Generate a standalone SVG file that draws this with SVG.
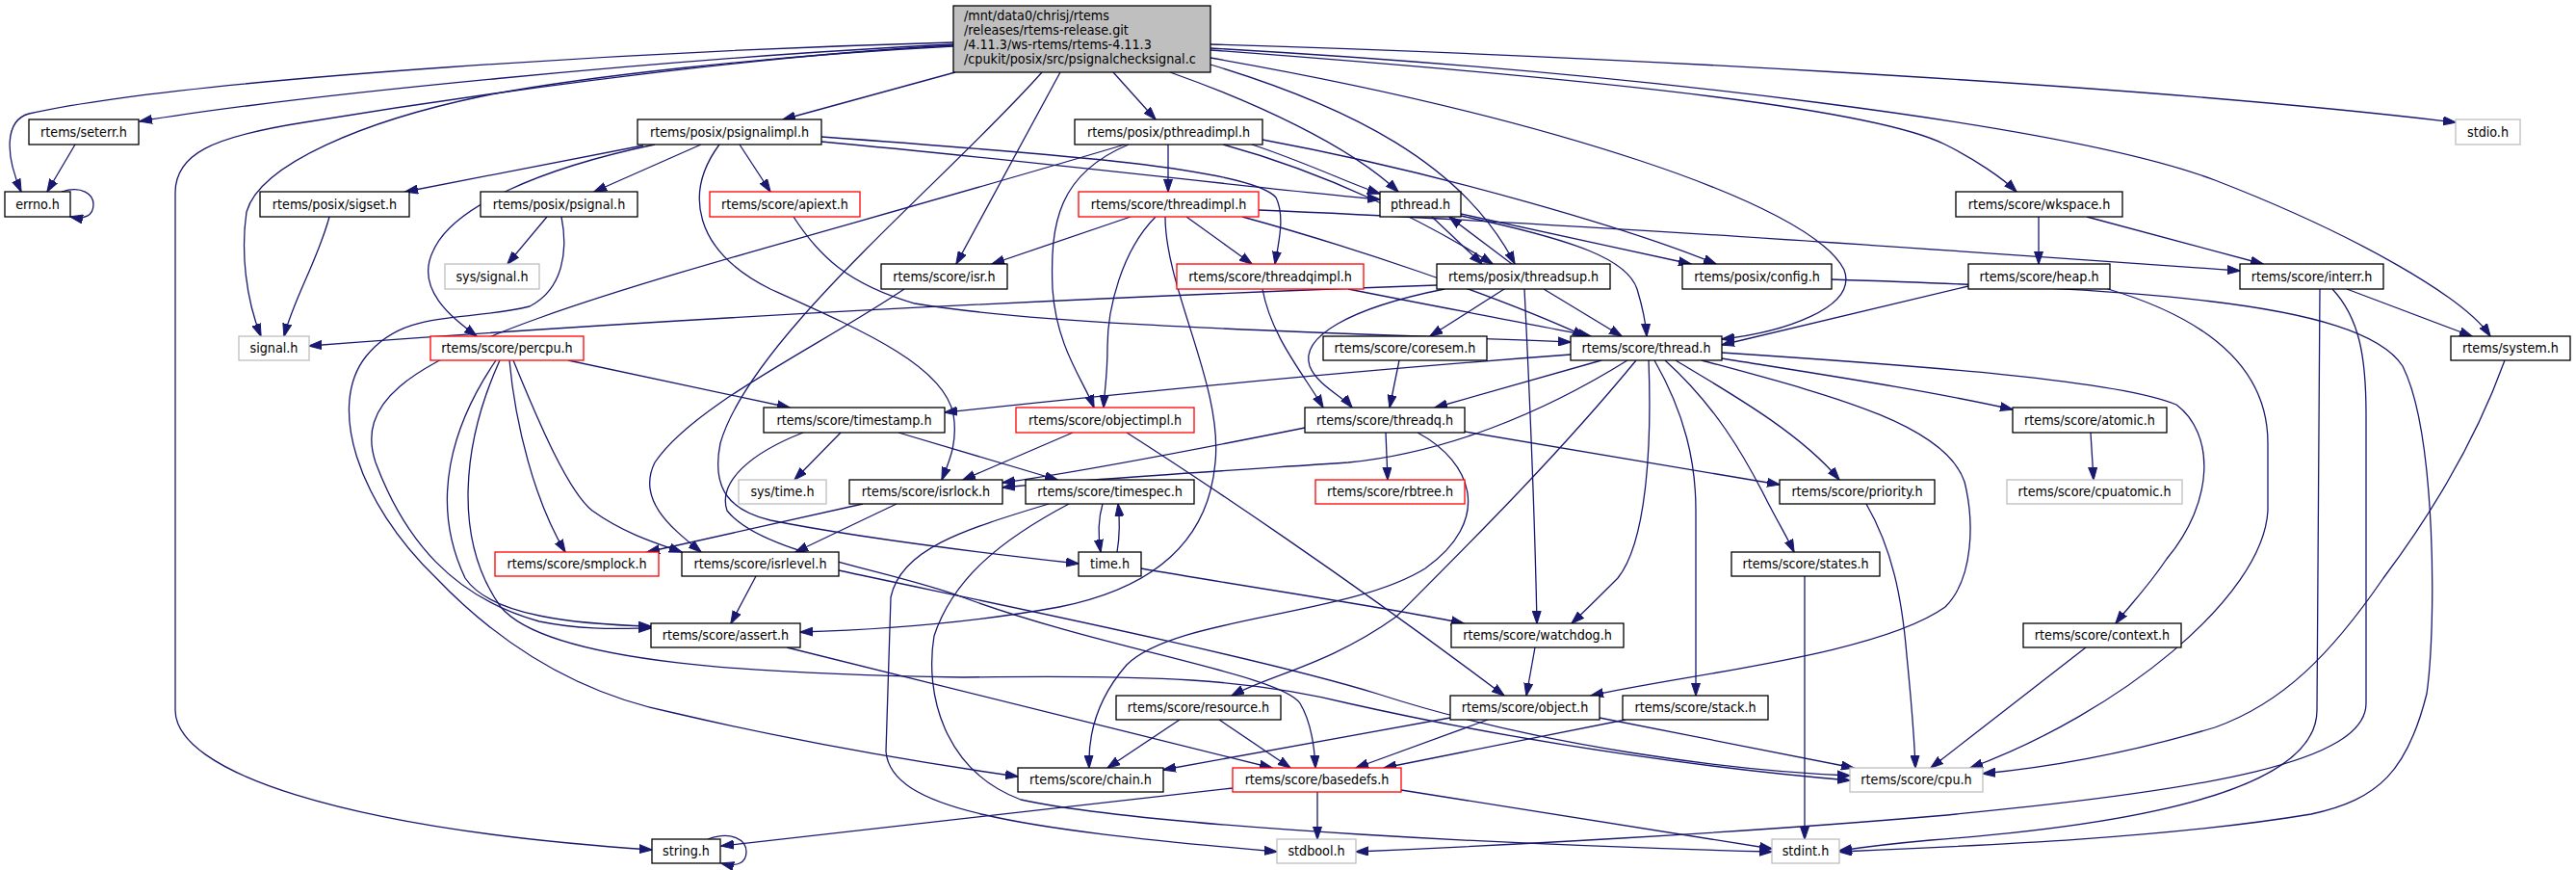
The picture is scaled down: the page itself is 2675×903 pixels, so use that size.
<svg xmlns="http://www.w3.org/2000/svg" width="2675" height="903" viewBox="0 0 2675 903">
<style>
.n rect{fill:#fff;stroke:#000;stroke-width:1.3}
.r rect{stroke:#ff0000}
.g rect{stroke:#bfbfbf}
.m rect{fill:#bfbfbf}
text{font-family:"DejaVu Sans Condensed","Liberation Sans",Arial,sans-serif;font-size:14.2px;fill:#000;text-anchor:middle}
.m text{text-anchor:start}
.e path{fill:none;stroke:#191970;stroke-width:1.3;marker-end:url(#a)}
</style>
<defs>
<marker id="a" markerUnits="userSpaceOnUse" markerWidth="14" markerHeight="10" refX="13" refY="5" viewBox="0 0 14 10" orient="auto"><path d="M0,0.5 L13.5,5 L0,9.5 z" fill="#191970" stroke="#191970" stroke-width="1"/></marker>
</defs>
<rect width="2675" height="903" fill="#fff"/>
<g class="e" id="edges">
<path d="M990,44 C700,52 200,80 30,118 C5,125 5,160 22,199"/>
<path d="M990,46 C700,60 300,100 145,126"/>
<path d="M990,47 C750,60 450,105 316,127 C220,142 182,160 182,200 L182,737 C182,800 350,860 677,882"/>
<path d="M990,48 C800,58 600,80 500,100 C380,125 270,170 256,220 C250,260 255,310 271,349"/>
<path d="M992,75 L813,124"/>
<path d="M1082,75 C980,190 780,350 748,460 C738,510 760,530 800,540 C900,560 1030,575 1120,585"/>
<path d="M1101,75 L993,274"/>
<path d="M1156,75 L1200,124"/>
<path d="M1215,75 C1300,105 1400,150 1452,199"/>
<path d="M1257,67 C1400,110 1520,170 1573,274"/>
<path d="M1257,60 C1600,120 1880,210 1915,280 C1930,320 1850,345 1788,352"/>
<path d="M1257,46 C1600,56 2200,85 2550,127"/>
<path d="M1257,50 C1700,75 2150,130 2300,187 C2450,245 2560,310 2586,349"/>
<path d="M1257,52 C1700,85 1950,115 2020,150 C2050,165 2080,185 2094,199"/>
<path d="M78,150 L49,199"/>
<path d="M64,199 C85,192 97,202 97,212 C97,224 88,228 73,225"/>
<path d="M668,151 L421,199"/>
<path d="M728,150 L617,199"/>
<path d="M768,150 L800,199"/>
<path d="M680,150 C560,175 470,215 450,260 C430,300 470,330 495,349"/>
<path d="M747,150 C710,200 720,260 800,300 C900,345 980,380 990,430 C995,460 985,480 978,498"/>
<path d="M853,142 C1100,160 1300,175 1325,205 C1335,225 1327,255 1324,274"/>
<path d="M853,147 C1100,170 1300,195 1433,207"/>
<path d="M1300,150 C1360,170 1400,190 1433,201"/>
<path d="M1270,150 C1380,180 1480,230 1550,274"/>
<path d="M1311,145 C1500,180 1700,240 1782,274"/>
<path d="M1213,150 L1213,199"/>
<path d="M1172,150 C1100,180 1090,230 1093,300 C1097,360 1125,395 1136,423"/>
<path d="M1168,150 C900,230 700,280 560,330 C420,380 370,420 390,480 C420,560 470,620 560,645 C610,655 650,652 676,652"/>
<path d="M342,225 C330,270 305,310 295,349"/>
<path d="M568,225 L527,274"/>
<path d="M583,225 C590,260 585,300 550,318 C480,335 420,320 380,370 C340,420 370,520 453,600 C520,670 600,720 700,740 C850,775 980,795 1057,806"/>
<path d="M824,225 C850,265 880,295 950,315 C1100,340 1400,345 1631,355"/>
<path d="M1174,225 L1030,274"/>
<path d="M1232,225 L1300,274"/>
<path d="M1200,225 C1165,260 1150,320 1150,360 C1150,390 1147,405 1146,423"/>
<path d="M1210,225 C1210,300 1270,400 1262,480 C1255,560 1200,610 1100,630 C1000,648 900,654 831,656"/>
<path d="M1307,218 C1600,230 2000,258 2326,281"/>
<path d="M1290,225 C1400,255 1550,305 1646,349"/>
<path d="M1487,225 L1539,274"/>
<path d="M1517,222 L1756,274"/>
<path d="M1517,224 C1640,250 1690,270 1700,300 C1706,320 1709,335 1710,349"/>
<path d="M1570,274 L1505,225"/>
<path d="M1492,296 C1100,310 700,330 321,359"/>
<path d="M1562,300 L1485,349"/>
<path d="M1603,300 L1684,349"/>
<path d="M1583,300 C1588,400 1594,550 1596,647"/>
<path d="M1500,300 C1400,320 1350,350 1360,380 C1368,400 1395,412 1404,423"/>
<path d="M2117,225 L2117,274"/>
<path d="M2167,225 L2350,274"/>
<path d="M1902,290 C2200,300 2450,310 2495,380 C2530,450 2530,650 2520,720 C2500,800 2470,830 2400,845 C2250,870 2050,878 1910,884"/>
<path d="M2044,297 L1788,358"/>
<path d="M2189,300 C2290,330 2355,380 2355,460 L2355,530 C2350,620 2200,740 2046,797"/>
<path d="M2437,300 L2567,349"/>
<path d="M2422,300 C2450,330 2457,370 2457,430 L2457,730 C2457,790 2300,820 2010,847 C1800,865 1550,878 1408,884"/>
<path d="M2409,300 L2406,737 C2406,800 2300,850 2005,872 C1960,876 1930,880 1910,883"/>
<path d="M2601,374 C2570,460 2520,540 2475,600 C2420,680 2370,730 2300,755 C2200,785 2120,797 2059,803"/>
<path d="M590,374 L820,423"/>
<path d="M529,374 C535,440 555,520 587,573"/>
<path d="M533,374 C560,440 590,510 615,530 C650,555 685,565 708,573"/>
<path d="M515,374 C470,440 445,520 483,600 C510,640 600,648 676,650"/>
<path d="M519,374 C480,460 470,560 520,630 C570,690 800,700 1000,703 C1200,700 1300,705 1400,730 C1600,775 1800,800 1921,810"/>
<path d="M939,300 C850,360 720,420 680,480 C660,520 700,550 728,573"/>
<path d="M1453,374 L1443,423"/>
<path d="M873,449 L825,498"/>
<path d="M933,449 L1098,498"/>
<path d="M834,449 C780,470 745,500 755,530 C790,575 920,590 1000,620 C1150,675 1330,700 1350,730 C1362,750 1365,775 1366,797"/>
<path d="M1114,449 L1000,498"/>
<path d="M1170,449 C1250,500 1400,600 1562,722"/>
<path d="M1439,449 L1441,498"/>
<path d="M1521,448 L1848,503"/>
<path d="M1472,449 C1530,480 1550,540 1480,590 C1400,640 1220,640 1170,690 C1135,730 1130,770 1131,797"/>
<path d="M1355,444 C1250,465 1120,490 1041,501"/>
<path d="M1311,300 C1320,350 1355,390 1374,423"/>
<path d="M1400,300 C1500,320 1600,338 1652,349"/>
<path d="M1631,368 C1400,385 1150,410 981,428"/>
<path d="M1663,374 L1490,423"/>
<path d="M1690,374 C1600,430 1500,470 1400,480 C1250,490 1120,498 1041,506"/>
<path d="M1699,374 C1620,470 1530,560 1450,640 C1380,690 1320,700 1279,722"/>
<path d="M1712,374 C1715,450 1712,560 1680,600 C1660,620 1645,635 1632,647"/>
<path d="M1718,374 C1750,430 1761,480 1761,530 L1761,722"/>
<path d="M1729,374 C1780,420 1810,470 1835,520 C1848,545 1857,560 1863,573"/>
<path d="M1740,374 C1800,410 1870,450 1910,498"/>
<path d="M1767,374 C1900,410 2020,440 2040,500 C2050,540 2050,600 2020,630 C1950,680 1750,700 1652,722"/>
<path d="M1788,372 C1900,390 2000,405 2090,425"/>
<path d="M1788,366 C2000,380 2200,395 2260,420 C2300,450 2300,520 2250,580 C2230,610 2210,630 2197,647"/>
<path d="M2171,449 L2174,498"/>
<path d="M896,523 L672,573"/>
<path d="M931,523 L826,573"/>
<path d="M1145,523 C1140,540 1140,555 1143,573"/>
<path d="M1089,523 C1000,550 935,570 925,620 L920,780 C925,840 1050,860 1326,884"/>
<path d="M1110,523 C1040,560 990,600 970,660 C960,720 980,800 1060,830 C1200,860 1600,878 1840,884"/>
<path d="M1160,573 C1163,555 1163,540 1161,523"/>
<path d="M1185,590 C1300,610 1450,632 1520,647"/>
<path d="M1938,523 C1965,570 1975,620 1980,680 C1985,730 1988,770 1989,797"/>
<path d="M1874,598 L1874,871"/>
<path d="M785,598 L759,647"/>
<path d="M871,592 C1000,620 1300,680 1430,720 C1600,775 1800,800 1921,805"/>
<path d="M817,672 L1321,797"/>
<path d="M1594,672 L1585,722"/>
<path d="M2166,672 L2005,797"/>
<path d="M1225,747 L1150,797"/>
<path d="M1266,747 L1340,797"/>
<path d="M1506,745 L1208,799"/>
<path d="M1545,747 L1408,797"/>
<path d="M1661,745 L1925,797"/>
<path d="M1688,747 L1437,797"/>
<path d="M1280,818 L749,878"/>
<path d="M1368,822 L1368,871"/>
<path d="M1455,820 L1840,881"/>
<path d="M735,871 C760,862 775,872 775,884 C775,896 765,900 749,896"/>
</g>
<g id="n_main" class="n m"><rect x="990" y="6" width="267" height="69"/><text x="1001" y="21">/mnt/data0/chrisj/rtems</text><text x="1001" y="36">/releases/rtems-release.git</text><text x="1001" y="51">/4.11.3/ws-rtems/rtems-4.11.3</text><text x="1001" y="66">/cpukit/posix/src/psignalchecksignal.c</text></g>
<g id="n_seterr" class="n"><rect x="30" y="124" width="114" height="26"/><text x="87" y="141.5">rtems/seterr.h</text></g>
<g id="n_psignalimpl" class="n"><rect x="662" y="124" width="191" height="26"/><text x="757.5" y="141.5">rtems/posix/psignalimpl.h</text></g>
<g id="n_pthreadimpl" class="n"><rect x="1116" y="124" width="195" height="26"/><text x="1213.5" y="141.5">rtems/posix/pthreadimpl.h</text></g>
<g id="n_stdio" class="n g"><rect x="2550" y="124" width="67" height="26"/><text x="2583.5" y="141.5">stdio.h</text></g>
<g id="n_errno" class="n"><rect x="5" y="199" width="68" height="26"/><text x="39" y="216.5">errno.h</text></g>
<g id="n_sigset" class="n"><rect x="270" y="199" width="155" height="26"/><text x="347.5" y="216.5">rtems/posix/sigset.h</text></g>
<g id="n_psignal" class="n"><rect x="499" y="199" width="163" height="26"/><text x="580.5" y="216.5">rtems/posix/psignal.h</text></g>
<g id="n_apiext" class="n r"><rect x="737" y="199" width="156" height="26"/><text x="815" y="216.5">rtems/score/apiext.h</text></g>
<g id="n_threadimpl" class="n r"><rect x="1120" y="199" width="187" height="26"/><text x="1213.5" y="216.5">rtems/score/threadimpl.h</text></g>
<g id="n_pthread" class="n"><rect x="1433" y="199" width="84" height="26"/><text x="1475" y="216.5">pthread.h</text></g>
<g id="n_wkspace" class="n"><rect x="2031" y="199" width="173" height="26"/><text x="2117.5" y="216.5">rtems/score/wkspace.h</text></g>
<g id="n_syssignal" class="n g"><rect x="462" y="274" width="98" height="26"/><text x="511" y="291.5">sys/signal.h</text></g>
<g id="n_isr" class="n"><rect x="915" y="274" width="131" height="26"/><text x="980.5" y="291.5">rtems/score/isr.h</text></g>
<g id="n_threadqimpl" class="n r"><rect x="1222" y="274" width="194" height="26"/><text x="1319" y="291.5">rtems/score/threadqimpl.h</text></g>
<g id="n_threadsup" class="n"><rect x="1492" y="274" width="180" height="26"/><text x="1582" y="291.5">rtems/posix/threadsup.h</text></g>
<g id="n_config" class="n"><rect x="1747" y="274" width="155" height="26"/><text x="1824.5" y="291.5">rtems/posix/config.h</text></g>
<g id="n_heap" class="n"><rect x="2044" y="274" width="147" height="26"/><text x="2117.5" y="291.5">rtems/score/heap.h</text></g>
<g id="n_interr" class="n"><rect x="2326" y="274" width="149" height="26"/><text x="2400.5" y="291.5">rtems/score/interr.h</text></g>
<g id="n_signal" class="n g"><rect x="248" y="349" width="73" height="25"/><text x="284.5" y="366">signal.h</text></g>
<g id="n_percpu" class="n r"><rect x="447" y="349" width="159" height="25"/><text x="526.5" y="366">rtems/score/percpu.h</text></g>
<g id="n_coresem" class="n"><rect x="1374" y="349" width="170" height="25"/><text x="1459" y="366">rtems/score/coresem.h</text></g>
<g id="n_thread" class="n"><rect x="1631" y="349" width="157" height="25"/><text x="1709.5" y="366">rtems/score/thread.h</text></g>
<g id="n_system" class="n"><rect x="2545" y="349" width="124" height="25"/><text x="2607" y="366">rtems/system.h</text></g>
<g id="n_timestamp" class="n"><rect x="793" y="423" width="188" height="26"/><text x="887" y="440.5">rtems/score/timestamp.h</text></g>
<g id="n_objectimpl" class="n r"><rect x="1055" y="423" width="185" height="26"/><text x="1147.5" y="440.5">rtems/score/objectimpl.h</text></g>
<g id="n_threadq" class="n"><rect x="1355" y="423" width="166" height="26"/><text x="1438" y="440.5">rtems/score/threadq.h</text></g>
<g id="n_atomic" class="n"><rect x="2090" y="423" width="160" height="26"/><text x="2170" y="440.5">rtems/score/atomic.h</text></g>
<g id="n_systime" class="n g"><rect x="767" y="498" width="91" height="25"/><text x="812.5" y="515">sys/time.h</text></g>
<g id="n_isrlock" class="n"><rect x="882" y="498" width="159" height="25"/><text x="961.5" y="515">rtems/score/isrlock.h</text></g>
<g id="n_timespec" class="n"><rect x="1065" y="498" width="175" height="25"/><text x="1152.5" y="515">rtems/score/timespec.h</text></g>
<g id="n_rbtree" class="n r"><rect x="1366" y="498" width="155" height="25"/><text x="1443.5" y="515">rtems/score/rbtree.h</text></g>
<g id="n_priority" class="n"><rect x="1848" y="498" width="161" height="25"/><text x="1928.5" y="515">rtems/score/priority.h</text></g>
<g id="n_cpuatomic" class="n g"><rect x="2084" y="498" width="182" height="25"/><text x="2175" y="515">rtems/score/cpuatomic.h</text></g>
<g id="n_smplock" class="n r"><rect x="514" y="573" width="170" height="25"/><text x="599" y="590">rtems/score/smplock.h</text></g>
<g id="n_isrlevel" class="n"><rect x="708" y="573" width="163" height="25"/><text x="789.5" y="590">rtems/score/isrlevel.h</text></g>
<g id="n_time" class="n"><rect x="1120" y="573" width="65" height="25"/><text x="1152.5" y="590">time.h</text></g>
<g id="n_states" class="n"><rect x="1798" y="573" width="154" height="25"/><text x="1875" y="590">rtems/score/states.h</text></g>
<g id="n_assert" class="n"><rect x="676" y="647" width="155" height="25"/><text x="753.5" y="664">rtems/score/assert.h</text></g>
<g id="n_watchdog" class="n"><rect x="1507" y="647" width="179" height="25"/><text x="1596.5" y="664">rtems/score/watchdog.h</text></g>
<g id="n_context" class="n"><rect x="2101" y="647" width="164" height="25"/><text x="2183" y="664">rtems/score/context.h</text></g>
<g id="n_resource" class="n"><rect x="1159" y="722" width="171" height="25"/><text x="1244.5" y="739">rtems/score/resource.h</text></g>
<g id="n_object" class="n"><rect x="1506" y="722" width="155" height="25"/><text x="1583.5" y="739">rtems/score/object.h</text></g>
<g id="n_stack" class="n"><rect x="1685" y="722" width="151" height="25"/><text x="1760.5" y="739">rtems/score/stack.h</text></g>
<g id="n_chain" class="n"><rect x="1057" y="797" width="151" height="25"/><text x="1132.5" y="814">rtems/score/chain.h</text></g>
<g id="n_basedefs" class="n r"><rect x="1280" y="797" width="175" height="25"/><text x="1367.5" y="814">rtems/score/basedefs.h</text></g>
<g id="n_cpu" class="n g"><rect x="1921" y="797" width="138" height="25"/><text x="1990" y="814">rtems/score/cpu.h</text></g>
<g id="n_string" class="n"><rect x="677" y="871" width="71" height="25"/><text x="712.5" y="888">string.h</text></g>
<g id="n_stdbool" class="n g"><rect x="1326" y="871" width="82" height="25"/><text x="1367" y="888">stdbool.h</text></g>
<g id="n_stdint" class="n g"><rect x="1840" y="871" width="70" height="25"/><text x="1875" y="888">stdint.h</text></g>
</svg>
